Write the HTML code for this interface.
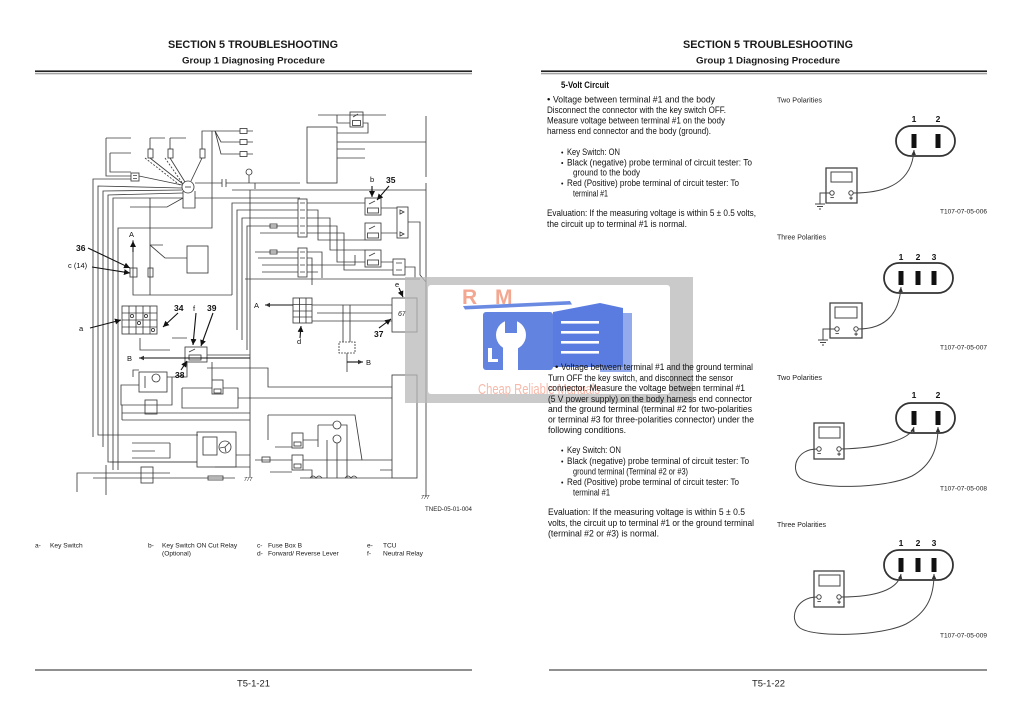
<!DOCTYPE html>
<html><head><meta charset="utf-8"><style>
html,body{margin:0;padding:0;background:#fff;}
body{width:1025px;height:721px;overflow:hidden;}
svg{display:block;}
text{font-family:"Liberation Sans",sans-serif;}
</style></head><body>
<svg width="1025" height="721" viewBox="0 0 1025 721" xmlns="http://www.w3.org/2000/svg">
<defs>
<marker id="ah" markerWidth="6" markerHeight="6" refX="5" refY="3" orient="auto" markerUnits="userSpaceOnUse"><path d="M0,0.8L5,3L0,5.2z" fill="#333"/></marker>
<marker id="lh" markerWidth="7" markerHeight="7" refX="6" refY="3.5" orient="auto" markerUnits="userSpaceOnUse"><path d="M0,0.5L6,3.5L0,6.5z" fill="#111"/></marker>
</defs>
<rect width="1025" height="721" fill="#fff"/>

<!-- HEADERS -->
<text x="168" y="48" font-size="11" font-weight="bold" fill="#1a1a1a" textLength="170" lengthAdjust="spacingAndGlyphs">SECTION 5 TROUBLESHOOTING</text>
<text x="182" y="63.5" font-size="9" font-weight="bold" fill="#1a1a1a" textLength="143" lengthAdjust="spacingAndGlyphs">Group 1 Diagnosing Procedure</text>
<rect x="35" y="70.4" width="437" height="1.7" fill="#222"/>
<rect x="35" y="73.4" width="437" height="0.8" fill="#666"/>
<text x="683" y="48" font-size="11" font-weight="bold" fill="#1a1a1a" textLength="170" lengthAdjust="spacingAndGlyphs">SECTION 5 TROUBLESHOOTING</text>
<text x="696" y="63.5" font-size="9" font-weight="bold" fill="#1a1a1a" textLength="144" lengthAdjust="spacingAndGlyphs">Group 1 Diagnosing Procedure</text>
<rect x="541" y="70.4" width="446" height="1.7" fill="#222"/>
<rect x="541" y="73.4" width="446" height="0.8" fill="#666"/>

<!-- FOOTERS -->
<rect x="35" y="669.5" width="437" height="1" fill="#222"/>
<rect x="549" y="669.5" width="438" height="1" fill="#222"/>
<text x="237" y="686.5" font-size="9" fill="#222" textLength="33" lengthAdjust="spacingAndGlyphs">T5-1-21</text>
<text x="752" y="686.5" font-size="9" fill="#222" textLength="33" lengthAdjust="spacingAndGlyphs">T5-1-22</text>

<!-- SCHEMATIC -->
<g fill="none" stroke="#3c3c3c" stroke-width="0.85">
<path d="M106,138H131M106,138V176H131M110,153H131M110,153V172H131"/>
<rect x="131" y="173" width="8" height="8"/>
<path d="M133,175.5h4M133,178.5h4"/>
<path d="M150,138H165M150,138V149M170,138H186M170,138V149M202,149V131H215M215,131H240M215,131L221,142H240M215,131L221,154H240"/>
<rect x="148" y="149" width="5" height="9"/><rect x="168" y="149" width="5" height="9"/><rect x="200" y="149" width="5" height="9"/>
<rect x="240" y="128.5" width="7" height="5"/><rect x="240" y="139.5" width="7" height="5"/><rect x="240" y="151.5" width="7" height="5"/>
<path d="M247,131h6M247,142h6M247,154h6"/>
<path d="M150,158L183,184M170,158L185,182M202,158L191,181M139,176L182,185"/>
<path d="M145,158L181,186M165,158L183,184" stroke-dasharray="2 1.5"/>
<circle cx="188" cy="187" r="6"/>
<path d="M185,187h6"/>
<path d="M131,179H93V437"/>
<path d="M182,188L98,186V435H198"/>
<path d="M182,190L103,191V447"/>
<path d="M183,193L108,195V462H197"/>
<path d="M183,198H113V470"/>
<path d="M183,191V208H195V191"/>
<path d="M195,183H222M226,183H300"/>
<path d="M222,179v8M226,179v8"/>
<circle cx="249" cy="172" r="3"/>
<path d="M249,175V183M255,183v6"/>
<path d="M195,198H300"/>
<path d="M212,131V228H118V470"/>
<path d="M130,207H167L183,198"/>
<path d="M150,198V295"/>
<rect x="148" y="268" width="5" height="9"/>
<path d="M150,245H163M150,245L165,258H187"/>
<rect x="187" y="246" width="21" height="27"/>
<path d="M133,240V295H232"/>
<rect x="130" y="268" width="7" height="9"/>
<path d="M318,115H386M337,115V123H350M363,123H368V133H337"/>
<rect x="350" y="112" width="13" height="15"/><rect x="352.5" y="120.5" width="8" height="5"/>
<path d="M353,117l5,-3"/>
<rect x="307" y="127" width="30" height="56"/>
<path d="M337,142H426M337,149H365M337,158H365"/>
<path d="M426,116V177M426,183V497"/>
<path d="M232,190H426"/>
<rect x="298" y="199" width="9" height="38"/>
<rect x="298" y="248" width="9" height="29"/>
<path d="M300,203h5M300,210h5M300,218h5M300,226h5M300,233h5M300,252h5M300,258h5M300,265h5M300,272h5"/>
<path d="M298,203H232V295M298,210H237V330M298,218H242V340M298,226H247V350"/>
<path d="M260,233H298M255,252H298M258,258H298M262,265H298M262,272H298"/>
<rect x="270" y="224" width="7" height="4"/><rect x="270" y="250" width="7" height="4"/>
<path d="M307,203H365M307,210H318V240H365M307,218H330V250H365M307,226H337V262H365M307,233H344V270H393"/>
<path d="M307,252H322V278M307,258H312V285M307,265H355V255M307,272H318"/>
<rect x="365" y="198" width="16" height="17"/><rect x="367.5" y="208" width="11" height="5"/>
<rect x="365" y="223" width="16" height="17"/><rect x="367.5" y="233" width="11" height="5"/>
<rect x="365" y="250" width="16" height="17"/><rect x="367.5" y="260" width="11" height="5"/>
<path d="M369,204l6,-3M369,229l6,-3M369,256l6,-3"/>
<rect x="397" y="207" width="11" height="31"/>
<path d="M400,210l4,2l-4,2zM400,232l4,2l-4,2z"/>
<path d="M381,208H397M381,233H397M408,222H420V275L426,282"/>
<rect x="393" y="259" width="12" height="16"/>
<path d="M396,263h6M396,270h6M381,262H393M405,267H415V278"/>
<path d="M245,279H420"/>
<rect x="293" y="298" width="19" height="25"/>
<path d="M293,304.5h19M293,311h19M293,317h19M299.5,298v25M306,298v25"/>
<path d="M312,305H392M317,313H392M312,321H392"/>
<path d="M343,305V342M350,305V342"/>
<rect x="339" y="342" width="16" height="11" stroke-dasharray="2 1"/>
<path d="M347,353V372"/>
<rect x="392" y="298" width="25" height="34"/>
<path d="M207,368H268V387H392M238,398H392"/>
<rect x="392" y="375" width="25" height="103"/>
<path d="M268,415H355L362,460M268,415V440"/>
<circle cx="337" cy="425" r="4"/><circle cx="337" cy="439" r="4"/>
<path d="M318,425H333M318,425V447M341,425H347V478M337,443V478M327,440V478"/>
<rect x="292" y="433" width="11" height="15"/><rect x="294" y="442" width="7" height="4"/>
<rect x="292" y="455" width="11" height="15"/><rect x="294" y="464" width="7" height="4"/>
<path d="M275,447H292M303,440H318M255,460H292M303,460H392M270,472H292M303,470H312V478M300,478H392M380,470H392"/>
<rect x="262" y="457" width="8" height="5"/>
<path d="M310,478q3,-4 6,0q3,-4 6,0M345,478q3,-4 6,0q3,-4 6,0"/>
<rect x="122" y="306" width="35" height="28"/>
<path d="M122,313h35M122,320h35M122,327h35M129,306v28M136,306v28M143,306v28M150,306v28"/>
<circle cx="132" cy="316" r="1.6"/><circle cx="146" cy="316" r="1.6"/><circle cx="139" cy="323" r="1.6"/><circle cx="153" cy="330" r="1.6"/>
<path d="M140,338V350H170M172,338H187"/>
<rect x="185" y="347" width="22" height="15"/><rect x="189" y="355" width="12" height="5"/>
<path d="M189,352l6,-3"/>
<path d="M207,355H250M250,190V477"/>
<rect x="139" y="372" width="28" height="20"/>
<circle cx="156" cy="378" r="4"/>
<path d="M145,376v12M133,377V370H139M167,377H175q2,-3 4,0q2,-3 4,0H187V362"/>
<path d="M139,385H121V405H172V377"/>
<rect x="145" y="400" width="12" height="14"/>
<path d="M182,388V408H238V388H223M182,388H212"/>
<rect x="212" y="380" width="11" height="14"/><rect x="214" y="389" width="7" height="4"/>
<path d="M212,362V380"/>
<path d="M122,413H250M122,420H250M122,405V420"/>
<rect x="197" y="432" width="39" height="35"/>
<rect x="203" y="437" width="14" height="18"/>
<circle cx="225" cy="447" r="6"/>
<path d="M225,447l4,-4M225,447l-5,1M225,447l1,5"/>
<path d="M132,443H170M132,451H155M132,458H170V443"/>
<path d="M110,462H197M236,455H250M215,467H250"/>
<path d="M77,492V473H170M93,478H235M106,465V495"/>
<rect x="141" y="467" width="12" height="16"/>
<rect x="208" y="476" width="15" height="4"/>
</g>
<g fill="#111" font-size="5" font-style="italic"><text x="244" y="481">777</text><text x="421" y="499">777</text></g>
<text x="398" y="316" font-size="7" font-style="italic" fill="#222">67</text>
<text x="425" y="511" font-size="6.5" fill="#222" textLength="47" lengthAdjust="spacingAndGlyphs">TNED-05-01-004</text>

<g fill="none" stroke="#111" stroke-width="1.1">
<path d="M88,248L130,268" marker-end="url(#lh)"/>
<path d="M92,267L130,273" marker-end="url(#lh)"/>
<path d="M90,328L121,320" marker-end="url(#lh)"/>
<path d="M178,313L163,327" marker-end="url(#lh)"/>
<path d="M196,313L193,345" marker-end="url(#lh)"/>
<path d="M213,313L201,346" marker-end="url(#lh)"/>
<path d="M181,370L187,361" marker-end="url(#lh)"/>
<path d="M372,186L372,197" marker-end="url(#lh)"/>
<path d="M389,186L377,200" marker-end="url(#lh)"/>
<path d="M399,288L403,297" marker-end="url(#lh)"/>
<path d="M379,328L391,319" marker-end="url(#lh)"/>
<path d="M300,338L301,326" marker-end="url(#lh)"/>
<path d="M133,252V241" marker-end="url(#lh)"/>
<path d="M250,358H139" marker-end="url(#ah)"/>
<path d="M293,305H265" marker-end="url(#ah)"/>
<path d="M347,362H363" marker-end="url(#ah)"/>
</g>
<g font-size="8.5" font-weight="bold" fill="#111">
<text x="76" y="251">36</text><text x="174" y="311">34</text><text x="207" y="311">39</text>
<text x="175" y="378">38</text><text x="386" y="183">35</text><text x="374" y="337">37</text>
</g>
<g font-size="7.5" fill="#111">
<text x="68" y="268">c (14)</text><text x="79" y="331">a</text><text x="193" y="311">f</text>
<text x="129" y="237">A</text><text x="127" y="361">B</text><text x="370" y="182">b</text>
<text x="395" y="287">e</text><text x="297" y="344">d</text><text x="254" y="308">A</text><text x="366" y="365">B</text>
</g>

<!-- LEGEND -->
<g font-size="6.6" fill="#1a1a1a">
<text x="35" y="547.5">a-</text><text x="50" y="547.5">Key Switch</text>
<text x="148" y="547.5">b-</text><text x="162" y="547.5">Key Switch ON Cut Relay</text><text x="162" y="555.5">(Optional)</text>
<text x="257" y="547.5">c-</text><text x="268" y="547.5">Fuse Box B</text>
<text x="257" y="555.5">d-</text><text x="268" y="555.5">Forward/ Reverse Lever</text>
<text x="367" y="547.5">e-</text><text x="383" y="547.5">TCU</text>
<text x="367" y="555.5">f-</text><text x="383" y="555.5">Neutral Relay</text>
</g>

<!-- WATERMARK -->
<rect x="405" y="277" width="288" height="126" fill="#b8b8b8" opacity="0.75"/>
<rect x="428" y="285" width="242" height="109" rx="3" fill="#fff"/>
<text x="462" y="304" font-family="Liberation Serif, serif" font-weight="bold" font-size="21" fill="#f3a790">R</text>
<text x="495" y="304" font-family="Liberation Serif, serif" font-weight="bold" font-size="21" fill="#f3a790">M</text>
<path d="M463,306L570,301L572,304.5L465,309.5Z" fill="#6b8be3"/>
<rect x="600" y="313" width="32" height="59" fill="#93abec"/>
<rect x="483" y="312" width="70" height="58" rx="3" fill="#6283e0"/>
<circle cx="511" cy="335" r="15" fill="#fff"/>
<rect x="505" y="318" width="12" height="15" fill="#6283e0"/>
<rect x="503" y="345" width="15" height="25" fill="#fff"/>
<rect x="488" y="348" width="4" height="14" fill="#fff"/><rect x="488" y="359" width="10" height="3" fill="#fff"/>
<path d="M553,312L600,303L623,308L623,367L553,367Z" fill="#5a7ce0"/>
<g fill="#fff"><rect x="561" y="321" width="38" height="2.6"/><rect x="561" y="331" width="38" height="2.6"/><rect x="561" y="341" width="38" height="2.6"/><rect x="561" y="351" width="38" height="2.6"/></g>
<text x="478" y="394" font-size="15" fill="#f6b9aa" textLength="122" lengthAdjust="spacingAndGlyphs">Cheap Reliable Manuals</text>

<!-- RIGHT PAGE TEXT -->
<g font-size="9.6" fill="#111">
<text x="561" y="88" font-weight="bold" textLength="48" lengthAdjust="spacingAndGlyphs">5-Volt Circuit</text>
<text x="547" y="102.5">•</text>
<text x="553" y="102.5" textLength="162" lengthAdjust="spacingAndGlyphs">Voltage between terminal #1 and the body</text>
<text x="547" y="113" textLength="179" lengthAdjust="spacingAndGlyphs">Disconnect the connector with the key switch OFF.</text>
<text x="547" y="123.5" textLength="178" lengthAdjust="spacingAndGlyphs">Measure voltage between terminal #1 on the body</text>
<text x="547" y="134" textLength="164" lengthAdjust="spacingAndGlyphs">harness end connector and the body (ground).</text>
<text x="561" y="155" font-size="7">•</text>
<text x="567" y="155" textLength="53" lengthAdjust="spacingAndGlyphs">Key Switch: ON</text>
<text x="561" y="165.5" font-size="7">•</text>
<text x="567" y="165.5" textLength="185" lengthAdjust="spacingAndGlyphs">Black (negative) probe terminal of circuit tester: To</text>
<text x="573" y="175.5" textLength="67" lengthAdjust="spacingAndGlyphs">ground to the body</text>
<text x="561" y="186" font-size="7">•</text>
<text x="567" y="186" textLength="172" lengthAdjust="spacingAndGlyphs">Red (Positive) probe terminal of circuit tester: To</text>
<text x="573" y="196.5" textLength="35" lengthAdjust="spacingAndGlyphs">terminal #1</text>
<text x="547" y="216" textLength="209" lengthAdjust="spacingAndGlyphs">Evaluation: If the measuring voltage is within 5 ± 0.5 volts,</text>
<text x="547" y="227" textLength="140" lengthAdjust="spacingAndGlyphs">the circuit up to terminal #1 is normal.</text>

<text x="555" y="370">•</text>
<text x="561" y="370" textLength="192" lengthAdjust="spacingAndGlyphs">Voltage between terminal #1 and the ground terminal</text>
<text x="548" y="381" textLength="185" lengthAdjust="spacingAndGlyphs">Turn OFF the key switch, and disconnect the sensor</text>
<text x="548" y="391" textLength="197" lengthAdjust="spacingAndGlyphs">connector. Measure the voltage between terminal #1</text>
<text x="548" y="402" textLength="204" lengthAdjust="spacingAndGlyphs">(5 V power supply) on the body harness end connector</text>
<text x="548" y="412" textLength="204" lengthAdjust="spacingAndGlyphs">and the ground terminal (terminal #2 for two-polarities</text>
<text x="548" y="422.5" textLength="206" lengthAdjust="spacingAndGlyphs">or terminal #3 for three-polarities connector) under the</text>
<text x="548" y="433" textLength="78" lengthAdjust="spacingAndGlyphs">following conditions.</text>
<text x="561" y="453" font-size="7">•</text>
<text x="567" y="453" textLength="54" lengthAdjust="spacingAndGlyphs">Key Switch: ON</text>
<text x="561" y="464" font-size="7">•</text>
<text x="567" y="464" textLength="182" lengthAdjust="spacingAndGlyphs">Black (negative) probe terminal of circuit tester: To</text>
<text x="573" y="474.5" textLength="115" lengthAdjust="spacingAndGlyphs">ground terminal (Terminal #2 or #3)</text>
<text x="561" y="485" font-size="7">•</text>
<text x="567" y="485" textLength="172" lengthAdjust="spacingAndGlyphs">Red (Positive) probe terminal of circuit tester: To</text>
<text x="573" y="495.5" textLength="37" lengthAdjust="spacingAndGlyphs">terminal #1</text>
<text x="548" y="515" textLength="197" lengthAdjust="spacingAndGlyphs">Evaluation: If the measuring voltage is within 5 ± 0.5</text>
<text x="548" y="526" textLength="206" lengthAdjust="spacingAndGlyphs">volts, the circuit up to terminal #1 or the ground terminal</text>
<text x="548" y="536.5" textLength="111" lengthAdjust="spacingAndGlyphs">(terminal #2 or #3) is normal.</text>
</g>

<!-- RIGHT DIAGRAMS -->
<g font-size="7" fill="#222">
<text x="777" y="102.5" textLength="45" lengthAdjust="spacingAndGlyphs">Two Polarities</text>
<text x="777" y="239.5" textLength="49" lengthAdjust="spacingAndGlyphs">Three Polarities</text>
<text x="777" y="380" textLength="45" lengthAdjust="spacingAndGlyphs">Two Polarities</text>
<text x="777" y="527" textLength="49" lengthAdjust="spacingAndGlyphs">Three Polarities</text>
</g>
<g font-size="6.5" fill="#222">
<text x="940" y="213.5" textLength="47" lengthAdjust="spacingAndGlyphs">T107-07-05-006</text>
<text x="940" y="349.5" textLength="47" lengthAdjust="spacingAndGlyphs">T107-07-05-007</text>
<text x="940" y="490.5" textLength="47" lengthAdjust="spacingAndGlyphs">T107-07-05-008</text>
<text x="940" y="637.5" textLength="47" lengthAdjust="spacingAndGlyphs">T107-07-05-009</text>
</g>
<g font-size="8.5" font-weight="bold" fill="#111" text-anchor="middle">
<text x="914" y="122">1</text><text x="938" y="122">2</text>
<text x="901" y="260">1</text><text x="918" y="260">2</text><text x="934" y="260">3</text>
<text x="914" y="398">1</text><text x="938" y="398">2</text>
<text x="901" y="546">1</text><text x="918" y="546">2</text><text x="934" y="546">3</text>
</g>
<g fill="none" stroke="#333" stroke-width="1.8">
<rect x="896" y="126" width="59" height="30" rx="15"/>
<rect x="884" y="263" width="69" height="30" rx="15"/>
<rect x="896" y="403" width="59" height="30" rx="15"/>
<rect x="884" y="550" width="69" height="30" rx="15"/>
</g>
<g fill="#111">
<rect x="911.5" y="134" width="5" height="14"/><rect x="935.5" y="134" width="5" height="14"/>
<rect x="898.5" y="271" width="5" height="14"/><rect x="915.5" y="271" width="5" height="14"/><rect x="931.5" y="271" width="5" height="14"/>
<rect x="911.5" y="411" width="5" height="14"/><rect x="935.5" y="411" width="5" height="14"/>
<rect x="898.5" y="558" width="5" height="14"/><rect x="915.5" y="558" width="5" height="14"/><rect x="931.5" y="558" width="5" height="14"/>
</g>
<g fill="none" stroke="#444" stroke-width="1">
<rect x="826" y="168" width="31" height="35" stroke-width="1.3"/>
<rect x="831" y="172" width="21" height="10"/>
<circle cx="832" cy="193" r="2.2"/><circle cx="851" cy="193" r="2.2"/>
<path d="M829.5,193H820V204M815,204h10M817,206.5h6M819,209h2"/>
<path d="M853,193C888,193 912,182 914,150" marker-end="url(#ah)"/>
<rect x="830" y="303" width="32" height="35" stroke-width="1.3"/>
<rect x="835" y="307" width="22" height="11"/>
<circle cx="837" cy="329" r="2.2"/><circle cx="856" cy="329" r="2.2"/>
<path d="M834.5,329H823V340M818,340h10M820,342.5h6M822,345h2"/>
<path d="M858,329C885,329 899,315 901,287" marker-end="url(#ah)"/>
<rect x="814" y="423" width="30" height="36" stroke-width="1.3"/>
<rect x="819" y="427" width="21" height="11"/>
<circle cx="819" cy="449" r="2.2"/><circle cx="839" cy="449" r="2.2"/>
<path d="M841,449C880,448 910,440 914,427" marker-end="url(#ah)"/>
<path d="M817,449C797,449 790,468 800,478C815,490 885,489 912,476C932,465 938,448 938,427" marker-end="url(#ah)"/>
<rect x="814" y="571" width="30" height="36" stroke-width="1.3"/>
<rect x="819" y="575" width="21" height="11"/>
<circle cx="819" cy="597" r="2.2"/><circle cx="839" cy="597" r="2.2"/>
<path d="M841,597C875,597 898,590 901,574" marker-end="url(#ah)"/>
<path d="M817,597C796,597 788,619 800,628C815,638 882,636 906,624C926,613 934,598 934,574" marker-end="url(#ah)"/>
</g>
<g font-size="7" font-weight="bold" fill="#222" text-anchor="middle">
<text x="832" y="200">−</text><text x="851" y="200.5">+</text>
<text x="837" y="336">−</text><text x="856" y="336.5">+</text>
<text x="819" y="456">−</text><text x="839" y="456.5">+</text>
<text x="819" y="604">−</text><text x="839" y="604.5">+</text>
</g>
</svg>
</body></html>
